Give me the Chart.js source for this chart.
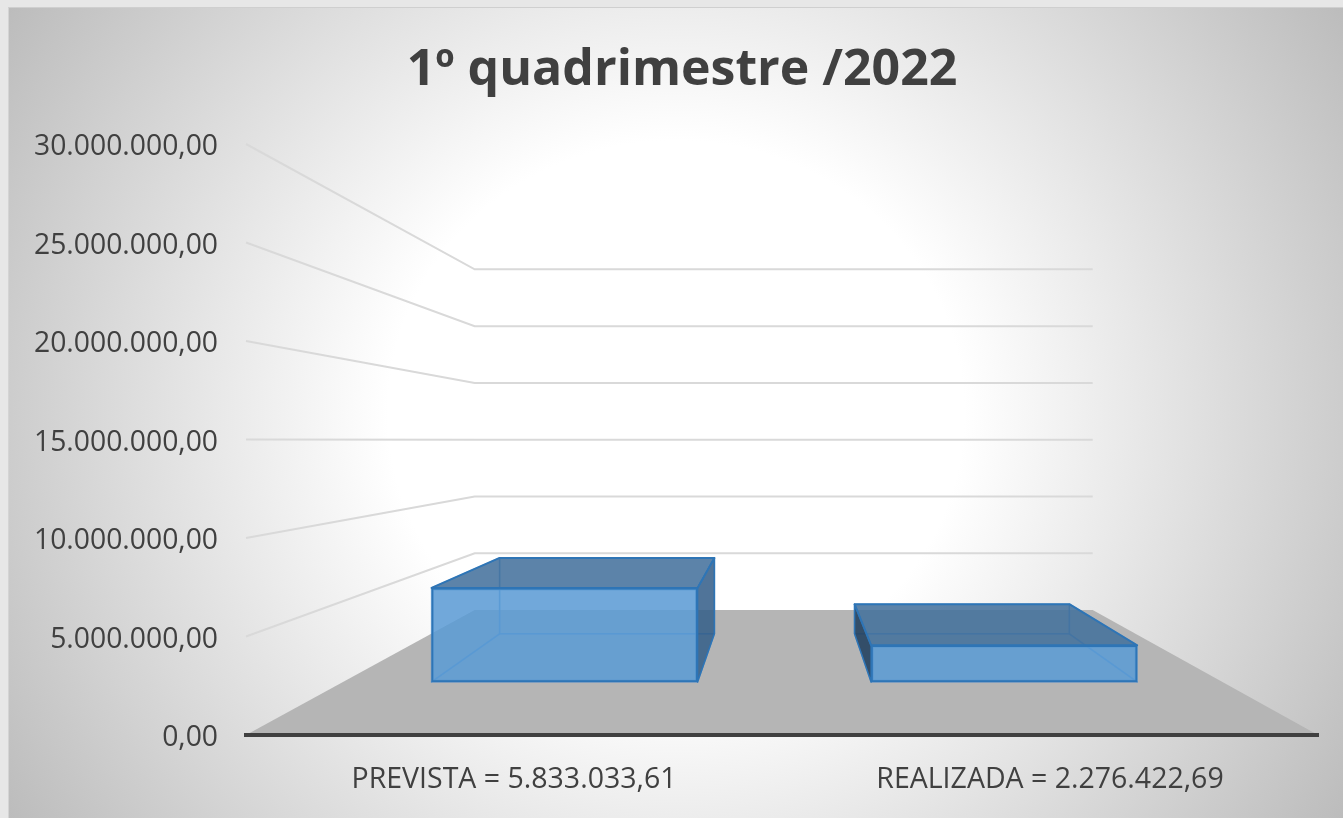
<!DOCTYPE html>
<html>
<head>
<meta charset="utf-8">
<title>1º quadrimestre /2022</title>
<script src="https://cdn.jsdelivr.net/npm/chart.js@4"></script>
<style>
    html, body { margin: 0; height: 100%; background: #e7e7e7; overflow: hidden; }
    #panel {
        position: absolute; left: 8px; top: 7px; right: 0; bottom: 0;
        border-top: 1px solid #cfcfcf; border-left: 1px solid #d4d4d4;
        background: radial-gradient(ellipse 800px 757px at 50% 50%, #ffffff 36%, #bbbbbb 100%);
    }
    #chart { position: absolute; left: 0; top: 0; }
</style>
</head>
<body>
<div id="panel"></div>
<canvas id="chart" width="1343" height="818"></canvas>
<script>
var chartTitle = '1º quadrimestre /2022';
var categories = ['PREVISTA = 5.833.033,61', 'REALIZADA = 2.276.422,69'];
var values = [5833033.61, 2276422.69];
var axisMax = 30000000;
var axisStep = 5000000;

var textColor = '#404040';
var fontName = '"Open Sans", "Noto Sans", sans-serif';

// perspective of the fake 3d box: room and bars shrink towards these points
var roomDepth = { k: 0.5765, vx: 786, vy: 440 };
var barDepth = { k: 0.8075, vx: 785, vy: 432 };

function project(d, x, y) {
    return [d.vx + d.k * (x - d.vx), d.vy + d.k * (y - d.vy)];
}

function poly(ctx, pts, fill, stroke, lw) {
    ctx.beginPath();
    pts.forEach(function (p, i) {
        if (i === 0) ctx.moveTo(p[0], p[1]); else ctx.lineTo(p[0], p[1]);
    });
    ctx.closePath();
    if (fill) { ctx.fillStyle = fill; ctx.fill(); }
    if (stroke) { ctx.strokeStyle = stroke; ctx.lineWidth = lw || 1; ctx.stroke(); }
}

var roomPlugin = {
    id: 'room',
    beforeDraw: function (chart) {
        var y = chart.scales.y;
        // labels are wider than the box left of the plot, stop the scale clipping them
        y.left = 0;
        // value labels sit a little under their grid line in the original
        y.getLabelItems(chart.chartArea).forEach(function (item) {
            item.textOffset += 3;
        });
    },
    beforeDatasetsDraw: function (chart) {
        var ctx = chart.ctx, a = chart.chartArea, y = chart.scales.y;
        ctx.save();
        // floor
        poly(ctx, [[a.left, a.bottom], project(roomDepth, a.left, a.bottom),
            project(roomDepth, a.right, a.bottom), [a.right, a.bottom]], '#b5b5b5');
        // side + back wall grid lines
        ctx.strokeStyle = '#d9d9d9';
        ctx.lineWidth = 2;
        y.ticks.forEach(function (t) {
            if (t.value === 0) return;
            var py = y.getPixelForValue(t.value);
            var b1 = project(roomDepth, a.left, py);
            var b2 = project(roomDepth, a.right, py);
            ctx.beginPath();
            ctx.moveTo(a.left, py);
            ctx.lineTo(b1[0], b1[1]);
            ctx.lineTo(b2[0], b1[1]);
            ctx.stroke();
        });
        ctx.restore();
    }
};

var boxPlugin = {
    id: 'box',
    beforeDatasetsDraw: function (chart) {
        var ctx = chart.ctx;
        ctx.save();
        ctx.lineJoin = 'round';
        chart.getDatasetMeta(0).data.forEach(function (bar) {
            var l = bar.x - bar.width / 2, r = bar.x + bar.width / 2, t = bar.y, b = bar.base;
            var bl = project(barDepth, l, b), br = project(barDepth, r, b);
            var tl = project(barDepth, l, t), tr = project(barDepth, r, t);
            var inner = 'rgba(62,135,205,0.55)';
            var edge = '#2e75b6';
            var rightVisible = bar.x < barDepth.vx;
            // hidden faces
            poly(ctx, [bl, br, tr, tl], 'rgba(91,155,213,0.08)', inner, 1.5);
            poly(ctx, [[l, b], [r, b], br, bl], 'rgba(91,155,213,0.08)', inner, 1.5);
            if (rightVisible) {
                poly(ctx, [[l, b], bl, tl, [l, t]], 'rgba(91,155,213,0.08)', inner, 1.5);
                poly(ctx, [[r, b], br, tr, [r, t]], 'rgba(52,94,136,0.85)', edge, 1.5);
            } else {
                poly(ctx, [[r, b], br, tr, [r, t]], 'rgba(91,155,213,0.08)', inner, 1.5);
                poly(ctx, [[l, b], bl, tl, [l, t]], 'rgba(38,66,96,0.9)', edge, 1.5);
            }
            // top
            poly(ctx, [[l, t], [r, t], tr, tl], 'rgba(66,112,155,0.85)', edge, 2);
        });
        ctx.restore();
    }
};

new Chart(document.getElementById('chart').getContext('2d'), {
    type: 'bar',
    data: {
        labels: categories,
        datasets: [{
            data: categories.map(function (c, i) { return { x: i, y: values[i] }; }),
            xAxisID: 'xBars',
            yAxisID: 'yBars',
            backgroundColor: 'rgba(91,155,213,0.85)',
            borderColor: '#2e75b6',
            borderWidth: 2,
            borderSkipped: false,
            barThickness: 266
        }]
    },
    options: {
        responsive: false,
        animation: false,
        layout: { padding: { right: 25, left: 46, top: 0, bottom: 0 } },
        plugins: {
            legend: { display: false },
            tooltip: { enabled: false },
            title: {
                display: true,
                text: chartTitle,
                color: textColor,
                font: { family: fontName, size: 50, weight: 'bold' },
                padding: { top: 41, bottom: 43 }
            }
        },
        scales: {
            x: {
                offset: true,
                grid: { display: false },
                border: { display: true, color: '#404040', width: 4, z: 1 },
                ticks: { color: textColor, padding: 20, maxRotation: 0,
                    font: { family: fontName, size: 28.5 } },
                afterFit: function (s) { s.height = 83; }
            },
            y: {
                min: 0,
                max: axisMax,
                grid: { display: false },
                border: { display: false },
                ticks: {
                    stepSize: axisStep,
                    color: textColor,
                    padding: 20,
                    font: { family: fontName, size: 28.3 },
                    callback: function (v) {
                        return v.toLocaleString('pt-BR', { minimumFractionDigits: 2, maximumFractionDigits: 2 });
                    }
                },
                afterFit: function (s) { s.width = 200; }
            },
            // bars stand on a nearer plane than the axis, so they have their own hidden scales
            xBars: { type: 'linear', display: false, offset: false, min: -0.7247, max: 1.714 },
            yBars: { display: false, min: -3290000, max: 33370000, grid: { display: false } }
        }
    },
    plugins: [roomPlugin, boxPlugin]
});
</script>
</body>
</html>
